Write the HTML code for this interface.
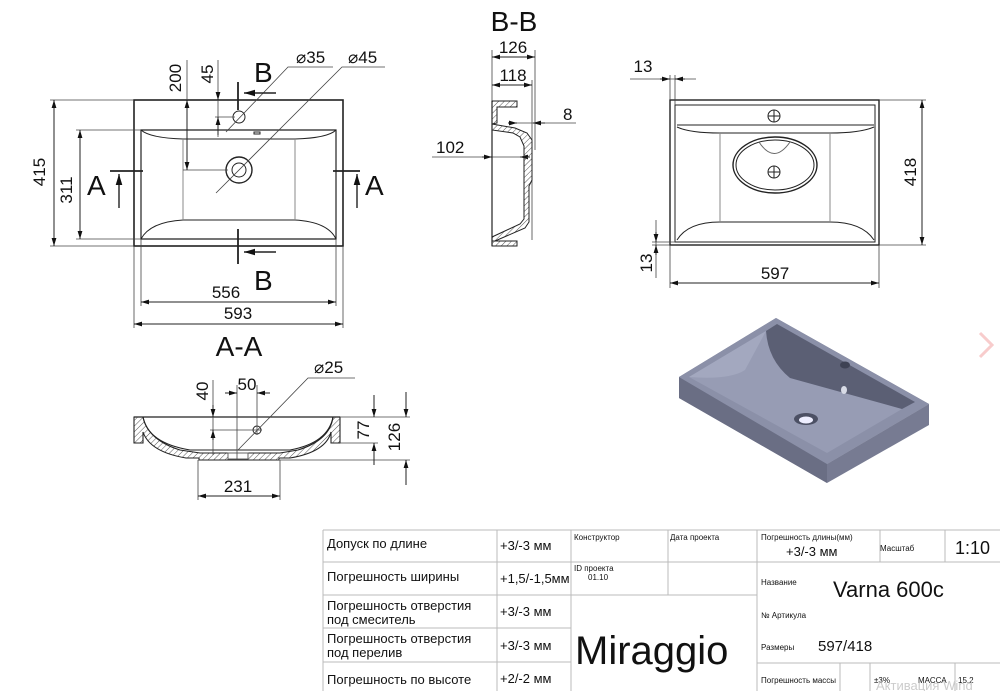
<!DOCTYPE html>
<html><head><meta charset="utf-8"><style>
html,body{margin:0;padding:0;background:#fff;}
svg{display:block;font-family:"Liberation Sans",sans-serif;}
.t{font-family:"Liberation Sans Narrow","Liberation Sans",sans-serif;fill:#111;}
</style></head><body>
<svg width="1000" height="691" viewBox="0 0 1000 691" xmlns="http://www.w3.org/2000/svg">
<defs>
<pattern id="h" width="4" height="4" patternUnits="userSpaceOnUse" patternTransform="rotate(45)"><line x1="0" y1="0" x2="0" y2="4" stroke="#555" stroke-width="1"/></pattern>
<marker id="a" viewBox="0 0 10 6" refX="10" refY="3" markerWidth="8" markerHeight="5" orient="auto-start-reverse"><path d="M0,0 L10,3 L0,6z" fill="#111"/></marker>
</defs>
<g stroke="#222" fill="none" stroke-width="1">
<!-- Left top view -->
<rect x="134" y="100" width="209" height="146" stroke-width="1.6"/>
<path d="M141,130 H336 V239 H141 Z" stroke-width="1.2"/>
<path d="M141,130 Q150,138 183,139 H295 Q328,138 336,130"/>
<path d="M141,239 Q150,222 183,220 H295 Q328,222 336,239"/>
<line x1="183" y1="139" x2="183" y2="220" stroke="#888"/><line x1="295" y1="139" x2="295" y2="220" stroke="#888"/>
<circle cx="239" cy="170" r="13" stroke-width="1.4"/><circle cx="239" cy="170" r="7"/>
<circle cx="239" cy="117" r="6"/><rect x="254" y="132" width="6" height="2"/>
<g stroke="#444" stroke-width="0.8">
<line x1="50" y1="100" x2="134" y2="100"/><line x1="50" y1="246" x2="134" y2="246"/>
<line x1="76" y1="130" x2="141" y2="130"/><line x1="76" y1="239" x2="141" y2="239"/>
<line x1="134" y1="246" x2="134" y2="328"/><line x1="343" y1="246" x2="343" y2="328"/>
<line x1="141" y1="239" x2="141" y2="306"/><line x1="336" y1="239" x2="336" y2="306"/>
<line x1="187" y1="60" x2="187" y2="100"/><line x1="183" y1="170" x2="228" y2="170"/>
<line x1="218" y1="60" x2="218" y2="137"/><line x1="215" y1="117" x2="235" y2="117"/>
<path d="M226,132 L288,67 H333"/><path d="M216,193 L342,67 H385"/>
</g>
<line x1="54" y1="100" x2="54" y2="246" marker-start="url(#a)" marker-end="url(#a)"/>
<line x1="80" y1="130" x2="80" y2="239" marker-start="url(#a)" marker-end="url(#a)"/>
<line x1="134" y1="324" x2="343" y2="324" marker-start="url(#a)" marker-end="url(#a)"/>
<line x1="141" y1="302" x2="336" y2="302" marker-start="url(#a)" marker-end="url(#a)"/>
<line x1="187" y1="100" x2="187" y2="170" marker-start="url(#a)" marker-end="url(#a)"/>
<line x1="218" y1="92" x2="218" y2="100" marker-end="url(#a)"/>
<line x1="218" y1="135" x2="218" y2="117" marker-end="url(#a)"/>
<g stroke-width="1.8"><line x1="238" y1="82" x2="238" y2="110"/><line x1="238" y1="229" x2="238" y2="264"/>
<line x1="110" y1="171" x2="143" y2="171"/><line x1="333" y1="171" x2="360" y2="171"/></g>
<line x1="276" y1="93" x2="244" y2="93" marker-end="url(#a)" stroke-width="1.4"/>
<line x1="276" y1="252" x2="244" y2="252" marker-end="url(#a)" stroke-width="1.4"/>
<line x1="119" y1="208" x2="119" y2="174" marker-end="url(#a)" stroke-width="1.4"/>
<line x1="357" y1="208" x2="357" y2="174" marker-end="url(#a)" stroke-width="1.4"/>

<!-- B-B section -->
<g stroke-width="0.8" stroke="#444">
<line x1="492" y1="50" x2="492" y2="101"/><line x1="535" y1="50" x2="535" y2="150"/><line x1="532" y1="80" x2="532" y2="240"/>
<line x1="517" y1="123" x2="576" y2="123"/><line x1="432" y1="157" x2="520" y2="157"/>
</g>
<line x1="492" y1="57" x2="535" y2="57" marker-start="url(#a)" marker-end="url(#a)"/>
<line x1="492" y1="85" x2="532" y2="85" marker-start="url(#a)" marker-end="url(#a)"/>
<line x1="508" y1="123" x2="517" y2="123" marker-end="url(#a)"/><line x1="545" y1="123" x2="533" y2="123" marker-end="url(#a)"/>
<line x1="482" y1="157" x2="492" y2="157" marker-end="url(#a)"/><line x1="530" y1="157" x2="520" y2="157" marker-end="url(#a)"/>
<line x1="492" y1="101" x2="492" y2="246" stroke-width="1.2"/>
<path d="M492,101 H517 V107 H497 V123 L492,124 Z" fill="url(#h)"/>
<path d="M492,124 L515,128 L527,133 L532,140 V180 L529,186 V222 L525,228 L495,241 H492 V237 L520,224 L524,219 V146 L520,137 L513,133 L492,130 Z" fill="url(#h)"/>
<path d="M492,241 H517 V246 H492 Z" fill="url(#h)"/>

<!-- Right top view -->
<rect x="670" y="100" width="209" height="145" stroke-width="1.4"/>
<rect x="675" y="105" width="200" height="137"/>
<line x1="677" y1="125" x2="874" y2="125"/>
<path d="M677,127 Q690,133 720,133 H830 Q860,133 874,127"/>
<path d="M677,240 Q688,222 720,222 H830 Q862,222 874,240"/>
<line x1="720" y1="133" x2="720" y2="222" stroke="#888"/><line x1="830" y1="133" x2="830" y2="222" stroke="#888"/>
<circle cx="774" cy="116" r="6"/><line x1="768" y1="116" x2="780" y2="116"/><line x1="774" y1="110" x2="774" y2="122"/>
<ellipse cx="775" cy="165" rx="42" ry="28" stroke-width="1.4"/><ellipse cx="775" cy="165" rx="39" ry="25"/>
<path d="M759,142 Q774,165 790,142" stroke="#666"/>
<circle cx="774" cy="172" r="6"/><line x1="768" y1="172" x2="780" y2="172"/><line x1="774" y1="166" x2="774" y2="178"/>
<rack/>
<g stroke-width="0.8" stroke="#444">
<line x1="670" y1="75" x2="670" y2="100"/><line x1="675" y1="75" x2="675" y2="105"/>
<line x1="630" y1="79" x2="696" y2="79"/>
<line x1="879" y1="100" x2="926" y2="100"/><line x1="879" y1="245" x2="926" y2="245"/>
<line x1="652" y1="242" x2="675" y2="242"/><line x1="652" y1="245" x2="670" y2="245"/>
<line x1="670" y1="245" x2="670" y2="288"/><line x1="879" y1="245" x2="879" y2="288"/>
<line x1="656" y1="220" x2="656" y2="278"/>
</g>
<line x1="660" y1="79" x2="670" y2="79" marker-end="url(#a)"/><line x1="685" y1="79" x2="675" y2="79" marker-end="url(#a)"/>
<line x1="656" y1="232" x2="656" y2="242" marker-end="url(#a)"/><line x1="656" y1="255" x2="656" y2="245" marker-end="url(#a)"/>
<line x1="922" y1="100" x2="922" y2="245" marker-start="url(#a)" marker-end="url(#a)"/>
<line x1="670" y1="283" x2="879" y2="283" marker-start="url(#a)" marker-end="url(#a)"/>

<!-- A-A section -->
<line x1="134" y1="417" x2="340" y2="417" stroke-width="1.2"/>
<path d="M134,417 H143 Q148,440 180,450 L200,453 H280 L298,450 Q330,440 333,417 H340 V443 H331 V432 Q326,452 290,458 H279 V460 H199 V458 H186 Q150,452 143,432 V443 H134 Z" fill="url(#h)" stroke-width="1.1"/>
<path d="M143,417 Q148,443 190,450 H290 Q328,443 333,417"/>
<rect x="228" y="453" width="20" height="6" fill="#fff" stroke="#666"/>
<circle cx="257" cy="430" r="4"/>
<g stroke-width="0.8" stroke="#444">
<line x1="198" y1="460" x2="198" y2="500"/><line x1="280" y1="460" x2="280" y2="500"/>
<line x1="340" y1="417" x2="410" y2="417"/><line x1="340" y1="443" x2="378" y2="443"/><line x1="280" y1="460" x2="410" y2="460"/>
<line x1="213" y1="380" x2="213" y2="455"/><line x1="237" y1="385" x2="237" y2="460"/><line x1="257" y1="385" x2="257" y2="435"/>
<line x1="210" y1="430" x2="262" y2="430"/>
<path d="M238,450 L308,378 H355"/>
</g>
<line x1="198" y1="496" x2="280" y2="496" marker-start="url(#a)" marker-end="url(#a)"/>
<line x1="374" y1="395" x2="374" y2="417" marker-end="url(#a)"/><line x1="374" y1="465" x2="374" y2="443" marker-end="url(#a)"/>
<line x1="406" y1="392" x2="406" y2="417" marker-end="url(#a)"/><line x1="406" y1="485" x2="406" y2="460" marker-end="url(#a)"/>
<line x1="213" y1="405" x2="213" y2="417" marker-end="url(#a)"/><line x1="213" y1="440" x2="213" y2="430" marker-end="url(#a)"/>
<line x1="225" y1="393" x2="237" y2="393" marker-end="url(#a)"/><line x1="270" y1="393" x2="257" y2="393" marker-end="url(#a)"/>
</g>

<!-- dimension texts -->
<g class="t" font-size="17">
<text x="45" y="172" transform="rotate(-90 45 172)" text-anchor="middle">415</text>
<text x="72" y="190" transform="rotate(-90 72 190)" text-anchor="middle">311</text>
<text x="238" y="319" text-anchor="middle">593</text>
<text x="226" y="298" text-anchor="middle">556</text>
<text x="181" y="78" transform="rotate(-90 181 78)" text-anchor="middle">200</text>
<text x="213" y="74" transform="rotate(-90 213 74)" text-anchor="middle">45</text>
<text x="296" y="63">⌀35</text><text x="348" y="63">⌀45</text>
<text x="513" y="53" text-anchor="middle">126</text>
<text x="513" y="81" text-anchor="middle">118</text>
<text x="563" y="120">8</text>
<text x="436" y="153">102</text>
<text x="643" y="72" text-anchor="middle">13</text>
<text x="652" y="263" transform="rotate(-90 652 263)" text-anchor="middle">13</text>
<text x="916" y="172" transform="rotate(-90 916 172)" text-anchor="middle">418</text>
<text x="775" y="279" text-anchor="middle">597</text>
<text x="208" y="391" transform="rotate(-90 208 391)" text-anchor="middle">40</text>
<text x="247" y="390" text-anchor="middle">50</text>
<text x="314" y="373">⌀25</text>
<text x="238" y="492" text-anchor="middle">231</text>
<text x="369" y="430" transform="rotate(-90 369 430)" text-anchor="middle">77</text>
<text x="400" y="437" transform="rotate(-90 400 437)" text-anchor="middle">126</text>
</g>
<g class="t" font-size="28">
<text x="254" y="82">B</text><text x="254" y="290">B</text>
<text x="87" y="195">A</text><text x="365" y="195">A</text>
<text x="514" y="31" text-anchor="middle">B-B</text>
<text x="239" y="356" text-anchor="middle">A-A</text>
</g>

<!-- iso sink -->
<polygon points="679,377 776,318 929,404 827,464 827,483 679,398" fill="#7b7f96"/>
<polygon points="679,377 827,464 827,483 679,398" fill="#6a6e84"/>
<polygon points="827,464 929,404 929,425 827,483" fill="#777b92"/>
<polygon points="679,377 776,318 929,404 827,464" fill="#8b90a8"/>
<polygon points="689,377 766,331 902,409 827,453" fill="#979cb4"/>
<path d="M766,331 Q768,360 790,378 L902,409 L915,402 L777,324 Z" fill="#5b5f74"/>
<path d="M689,377 Q730,380 745,370 L766,331 Z" fill="#a3a8bf"/>
<ellipse cx="806" cy="419" rx="12" ry="6" fill="#4c5064"/><ellipse cx="806" cy="420" rx="7" ry="3.5" fill="#eef"/>
<ellipse cx="845" cy="365" rx="5" ry="3.5" fill="#3e4254"/>
<ellipse cx="844" cy="390" rx="3" ry="4" fill="#d8dbe6"/>
<path d="M980,333 L992,345 L980,357" stroke="#f8cccc" stroke-width="3" fill="none"/>

<!-- title block -->
<g stroke="#bbb" stroke-width="1" fill="none">
<line x1="323" y1="530" x2="1000" y2="530"/>
<line x1="323" y1="562" x2="757" y2="562"/><line x1="323" y1="595" x2="571" y2="595"/>
<line x1="571" y1="595" x2="757" y2="595"/>
<line x1="323" y1="628" x2="571" y2="628"/><line x1="323" y1="662" x2="571" y2="662"/>
<line x1="757" y1="562" x2="1000" y2="562"/><line x1="757" y1="663" x2="1000" y2="663"/>
<line x1="323" y1="530" x2="323" y2="691"/><line x1="497" y1="530" x2="497" y2="691"/>
<line x1="571" y1="530" x2="571" y2="691"/><line x1="668" y1="530" x2="668" y2="595"/>
<line x1="757" y1="530" x2="757" y2="691"/><line x1="880" y1="530" x2="880" y2="562"/>
<line x1="945" y1="530" x2="945" y2="562"/>
<line x1="840" y1="663" x2="840" y2="691"/><line x1="870" y1="663" x2="870" y2="691"/><line x1="955" y1="663" x2="955" y2="691"/>
</g>
<g class="t" font-size="13">
<text x="327" y="548">Допуск по длине</text>
<text x="327" y="581">Погрешность ширины</text>
<text x="327" y="610">Погрешность отверстия</text><text x="327" y="624">под смеситель</text>
<text x="327" y="643">Погрешность отверстия</text><text x="327" y="657">под перелив</text>
<text x="327" y="684">Погрешность по высоте</text>
<text x="500" y="550">+3/-3 мм</text><text x="500" y="583">+1,5/-1,5мм</text>
<text x="500" y="616">+3/-3 мм</text><text x="500" y="650">+3/-3 мм</text><text x="500" y="683">+2/-2 мм</text>
</g>
<g class="t" font-size="8">
<text x="574" y="540">Конструктор</text><text x="670" y="540">Дата проекта</text>
<text x="574" y="571">ID проекта</text><text x="588" y="580">01.10</text>
<text x="761" y="540">Погрешность длины(мм)</text>
<text x="880" y="551">Масштаб</text>
<text x="761" y="585">Название</text><text x="761" y="618">№ Артикула</text><text x="761" y="650">Размеры</text>
<text x="761" y="683">Погрешность массы</text><text x="874" y="683">±3%</text><text x="918" y="683">МАССА</text><text x="958" y="683">15.2</text>
</g>
<text class="t" x="786" y="556" font-size="13">+3/-3 мм</text>
<text class="t" x="955" y="554" font-size="18">1:10</text>
<text class="t" x="833" y="597" font-size="22">Varna 600c</text>
<text class="t" x="818" y="651" font-size="15">597/418</text>
<text class="t" x="575" y="664" font-size="40">Miraggio</text>
<text x="876" y="690" font-size="13" fill="#ccc">Активация Wind</text>
</svg>
</body></html>
